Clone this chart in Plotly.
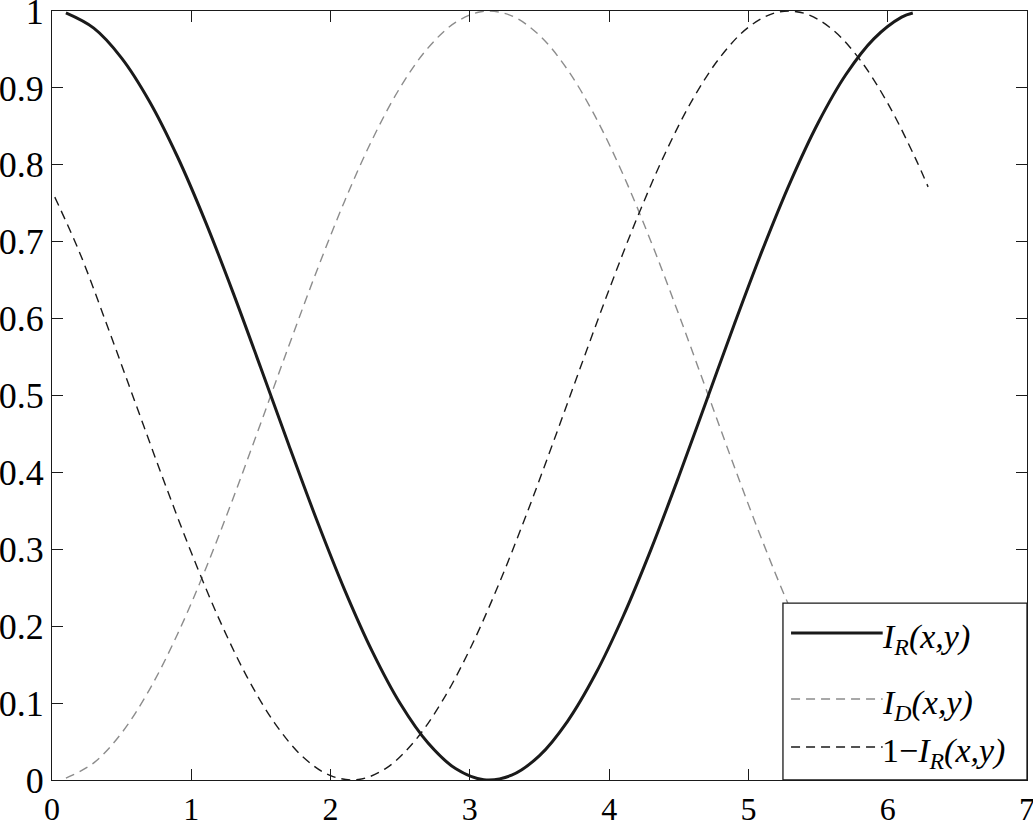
import plotly.graph_objects as go

# ---- data ----
x_main = [0.1, 0.3, 0.5, 0.7, 0.9, 1.1, 1.3, 1.5, 1.7, 1.9, 2.1, 2.3, 2.5, 2.7, 2.9, 3.1,
          3.3, 3.5, 3.7, 3.9, 4.1, 4.3, 4.5, 4.7, 4.9, 5.1, 5.3, 5.5, 5.7, 5.9, 6.1, 6.18]
i_r = [0.9975, 0.9777, 0.9388, 0.8824, 0.8108, 0.7268, 0.6338, 0.5354, 0.4356, 0.3384,
       0.2476, 0.1669, 0.0994, 0.0480, 0.0145, 0.0004, 0.0063, 0.0317, 0.0760, 0.1371,
       0.2126, 0.2996, 0.3946, 0.4938, 0.5933, 0.6890, 0.7772, 0.8544, 0.9174, 0.9638,
       0.9920, 0.9974]
i_d = [0.0025, 0.0223, 0.0612, 0.1176, 0.1892, 0.2732, 0.3662, 0.4646, 0.5644, 0.6616,
       0.7524, 0.8331, 0.9006, 0.9520, 0.9855, 0.9996, 0.9937, 0.9683, 0.9240, 0.8629,
       0.7874, 0.7004, 0.6054, 0.5062, 0.4067, 0.3110, 0.2228, 0.1456, 0.0826, 0.0362,
       0.0080, 0.0026]
x_comp = [0.02, 0.2, 0.4, 0.6, 0.8, 1.0, 1.2, 1.4, 1.6, 1.8, 2.0, 2.2, 2.4, 2.6, 2.8, 3.0,
          3.2, 3.4, 3.6, 3.8, 4.0, 4.2, 4.4, 4.6, 4.8, 5.0, 5.2, 5.4, 5.6, 5.8, 6.0, 6.2, 6.29]
one_minus_ir = [0.758, 0.6851, 0.5891, 0.4896, 0.3905, 0.2958, 0.2092, 0.1342, 0.0737,
                0.0303, 0.0056, 0.0006, 0.0155, 0.0498, 0.1020, 0.1700, 0.2512, 0.3423,
                0.4398, 0.5396, 0.6378, 0.7306, 0.8141, 0.8851, 0.9406, 0.9789, 0.9980,
                0.9971, 0.9764, 0.9368, 0.8801, 0.8080, 0.7713]

x_ticks = [0, 1, 2, 3, 4, 5, 6, 7]
y_ticks = [0, 0.1, 0.2, 0.3, 0.4, 0.5, 0.6, 0.7, 0.8, 0.9, 1]
y_tick_text = ["0", "0.1", "0.2", "0.3", "0.4", "0.5", "0.6", "0.7", "0.8", "0.9", "1"]

legend_labels = ["<i>I</i><sub><i>R</i></sub><i>(x,y)</i>",
                 "<i>I</i><sub><i>D</i></sub><i>(x,y)</i>",
                 "1−<i>I</i><sub><i>R</i></sub><i>(x,y)</i>"]

FONT = "Liberation Serif, Times New Roman, serif"
GRAY = "#8c8c8c"
BLACK = "#1a1a1a"
DASH = "9px,6px"

fig = go.Figure()
fig.add_trace(go.Scatter(x=x_main, y=i_d, mode="lines", line=dict(color=GRAY, width=1.4, dash=DASH, shape="spline"),
                         showlegend=False))
fig.add_trace(go.Scatter(x=x_comp, y=one_minus_ir, mode="lines", line=dict(color=BLACK, width=1.4, dash=DASH, shape="spline"),
                         showlegend=False))
fig.add_trace(go.Scatter(x=x_main, y=i_r, mode="lines", line=dict(color=BLACK, width=3, shape="spline"),
                         showlegend=False))

# manual legend box
shapes = [dict(type="rect", xref="paper", yref="paper", x0=0.7497, x1=1.0, y0=0.0, y1=0.2301,
               fillcolor="white", line=dict(color=BLACK, width=1.3), layer="above")]
leg_y = [0.1911, 0.1053, 0.0429]
leg_styles = [dict(color=BLACK, width=3), dict(color=GRAY, width=1.4, dash=DASH), dict(color=BLACK, width=1.4, dash=DASH)]
annotations = []
for yy, st, lab in zip(leg_y, leg_styles, legend_labels):
    shapes.append(dict(type="line", xref="paper", yref="paper", x0=0.758, x1=0.852, y0=yy, y1=yy,
                       line=st, layer="above"))
    annotations.append(dict(xref="paper", yref="paper", x=0.852, y=yy, xanchor="left", yanchor="middle",
                            text=lab, showarrow=False, font=dict(family=FONT, size=34, color="black"),
                            xshift=-3, yshift=-6))

axis_common = dict(showgrid=False, zeroline=False, showline=True, linecolor=BLACK, linewidth=1.3,
                   mirror="ticks", ticks="inside", ticklen=11, tickwidth=1.3, tickcolor=BLACK,
                   automargin=False, ticklabeloverflow="allow")

fig.update_layout(
    width=1033, height=820,
    margin=dict(l=52, r=6, t=11, b=40),
    paper_bgcolor="white", plot_bgcolor="white",
    shapes=shapes, annotations=annotations,
    xaxis=dict(range=[0, 7], tickvals=x_ticks, ticklabelstandoff=0,
               tickfont=dict(family=FONT, size=32, color="black"), **axis_common),
    yaxis=dict(range=[0, 1], tickvals=y_ticks, ticktext=y_tick_text, ticklabelstandoff=0,
               tickfont=dict(family=FONT, size=36, color="black"), **axis_common),
)

fig.write_html("out.html", config={"displayModeBar": False},
               post_script="document.body.style.margin='0px';document.body.style.overflow='hidden';")
